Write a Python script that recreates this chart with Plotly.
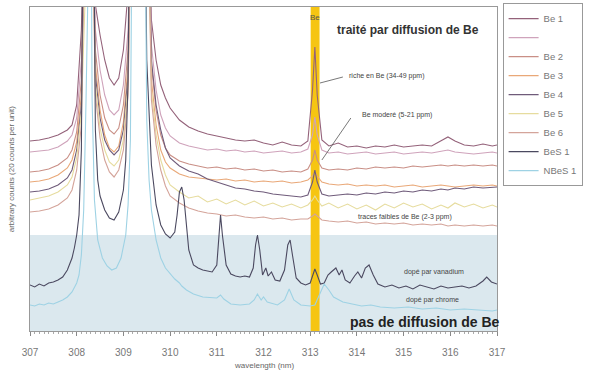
import plotly.graph_objects as go

# ---------------- data ----------------
# common wavelength grid for the Be-treated spectra (nm)
X_BE = [307.0, 307.2, 307.4, 307.6, 307.8, 307.9, 308.0, 308.1, 308.2, 308.3,
        308.4, 308.5, 308.6, 308.7, 308.8, 308.9, 309.0, 309.1, 309.2, 309.3,
        309.4, 309.5, 309.6, 309.7, 309.8, 309.9, 310.0, 310.2, 310.4, 310.6,
        310.8, 311.0, 311.2, 311.4, 311.6, 311.8, 312.0, 312.2, 312.4, 312.6,
        312.8, 312.95, 313.05, 313.1, 313.15, 313.25, 313.4, 313.6, 313.8, 314.0,
        314.2, 314.4, 314.6, 314.8, 315.0, 315.2, 315.4, 315.6, 315.8, 315.95,
        316.1, 316.3, 316.5, 316.7, 316.9, 317.0]

BE1 = [190, 191, 193, 196, 201, 206, 226, 301, 500, 500,
       326, 296, 271, 253, 246, 253, 281, 340, 500, 500,
       500, 500, 311, 271, 246, 233, 223, 211, 204, 200,
       197, 195, 193, 191, 190, 191, 188, 186, 189, 186,
       185, 190, 241, 284, 236, 191, 185, 188, 184, 185,
       183, 185, 184, 186, 184, 185, 186, 185, 190, 194,
       190, 186, 185, 187, 185, 186]

BE_BLANK = [179, 180, 181, 184, 190, 196, 213, 271, 500, 500,
            301, 261, 236, 221, 216, 221, 246, 301, 500, 500,
            500, 500, 286, 241, 216, 203, 195, 188, 185, 183,
            181, 182, 180, 181, 179, 180, 178, 179, 180, 178,
            179, 182, 196, 214, 196, 181, 178, 179, 177, 178,
            179, 177, 178, 179, 177, 178, 179, 178, 180, 181,
            179, 178, 177, 178, 179, 178]

BE2 = [159, 160, 162, 166, 173, 181, 199, 251, 500, 500,
       281, 236, 213, 201, 197, 203, 226, 281, 500, 500,
       500, 500, 266, 221, 196, 183, 176, 170, 167, 165,
       163, 164, 162, 163, 161, 162, 160, 161, 159, 160,
       159, 162, 171, 181, 171, 163, 161, 162, 161, 163,
       162, 164, 163, 164, 163, 165, 164, 165, 166, 165,
       166, 165, 166, 165, 166, 165]

BE3 = [149, 150, 152, 156, 163, 171, 189, 236, 500, 500,
       266, 221, 196, 183, 179, 185, 209, 266, 500, 500,
       500, 500, 251, 206, 181, 169, 163, 157, 154, 153,
       152, 151, 152, 150, 151, 149, 150, 149, 150, 148,
       149, 151, 155, 159, 155, 149, 147, 146, 147, 145,
       146, 145, 146, 144, 145, 146, 144, 145, 146, 145,
       144, 145, 146, 145, 146, 145]

BE4 = [139, 140, 142, 146, 153, 161, 181, 226, 500, 500,
       256, 213, 191, 181, 176, 181, 201, 256, 500, 500,
       500, 500, 271, 226, 201, 183, 173, 165, 160, 157,
       152, 149, 146, 143, 142, 140, 139, 137, 136, 135,
       134, 136, 149, 161, 149, 137, 135, 136, 137, 136,
       138, 137, 139, 138, 140, 139, 141, 140, 142, 141,
       143, 142, 144, 143, 144, 144]

BE5 = [131, 133, 135, 139, 146, 154, 173, 219, 500, 500,
       246, 203, 181, 169, 165, 171, 191, 246, 500, 500,
       500, 500, 241, 196, 171, 156, 146, 139, 133, 135,
       129, 132, 127, 131, 126, 130, 125, 128, 124, 127,
       123, 126, 131, 135, 131, 125, 128, 123, 127, 122,
       126, 121, 127, 123, 128, 124, 127, 122, 126, 123,
       128, 124, 127, 123, 126, 124]

BE6 = [119, 120, 122, 126, 133, 141, 161, 206, 500, 500,
       236, 193, 171, 159, 154, 161, 181, 236, 500, 500,
       500, 500, 231, 186, 161, 145, 135, 128, 123, 120,
       118, 117, 115, 116, 114, 113, 114, 112, 113, 111,
       112, 112, 115, 117, 115, 111, 110, 109, 110, 108,
       109, 107, 108, 107, 108, 106, 107, 106, 107, 105,
       106, 105, 106, 105, 106, 105]

# vanadium-doped, untreated sample
X_BES = [307.0, 307.1, 307.2, 307.3, 307.4, 307.5, 307.6, 307.7, 307.8, 307.9,
         307.95, 308.0, 308.05, 308.1, 308.15, 308.35, 308.4, 308.45, 308.5, 308.6,
         308.7, 308.8, 308.9, 309.0, 309.05, 309.1, 309.15, 309.45, 309.5, 309.55,
         309.6, 309.7, 309.8, 309.9, 310.0, 310.1, 310.15, 310.2, 310.25, 310.3,
         310.35, 310.4, 310.5, 310.6, 310.7, 310.8, 310.9, 311.0, 311.05, 311.08,
         311.12, 311.2, 311.3, 311.4, 311.5, 311.6, 311.7, 311.78, 311.83, 311.87,
         311.92, 311.98, 312.05, 312.1, 312.17, 312.25, 312.35, 312.45, 312.52, 312.57,
         312.62, 312.7, 312.8, 312.9, 313.0, 313.05, 313.1, 313.15, 313.22, 313.3,
         313.38, 313.45, 313.5, 313.55, 313.62, 313.68, 313.75, 313.85, 313.95, 314.02,
         314.1, 314.18, 314.26, 314.35, 314.45, 314.6, 314.75, 314.9, 315.05, 315.2,
         315.35, 315.5, 315.65, 315.8, 315.95, 316.1, 316.25, 316.4, 316.55, 316.7,
         316.78, 316.88, 317.0]
BES1 = [46, 44, 47, 45, 48, 49, 51, 54, 61, 73,
        83, 96, 116, 181, 500, 500, 201, 151, 135, 121,
        113, 111, 119, 141, 171, 251, 500, 500, 271, 211,
        166, 126, 106, 97, 93, 99, 116, 139, 144, 131,
        103, 81, 66, 63, 61, 60, 59, 66, 101, 116,
        96, 66, 57, 55, 54, 55, 54, 63, 86, 96,
        81, 56, 63, 55, 59, 51, 50, 61, 86, 91,
        76, 53, 48, 46, 48, 56, 62, 56, 47, 48,
        56, 59, 61, 63, 56, 61, 51, 48, 55, 59,
        53, 63, 66, 56, 47, 44, 46, 43, 45, 42,
        46, 44, 42, 45, 43, 44, 45, 43, 45, 50,
        54, 49, 47]

# chromium-doped, untreated sample
X_NBES = [307.0, 307.1, 307.2, 307.3, 307.4, 307.5, 307.6, 307.7, 307.8, 307.9,
          308.0, 308.05, 308.1, 308.15, 308.2, 308.23, 308.3, 308.33, 308.38, 308.45,
          308.55, 308.65, 308.75, 308.85, 308.95, 309.05, 309.1, 309.15, 309.2, 309.45,
          309.5, 309.55, 309.6, 309.7, 309.8, 309.9, 310.0, 310.1, 310.2, 310.25,
          310.35, 310.5, 310.7, 310.9, 311.0, 311.08, 311.15, 311.3, 311.5, 311.7,
          311.8, 311.87, 311.95, 312.0, 312.08, 312.3, 312.45, 312.55, 312.65, 312.8,
          313.0, 313.1, 313.2, 313.3, 313.4, 313.5, 313.7, 313.9, 314.1, 314.3,
          314.5, 314.8, 315.1, 315.4, 315.7, 316.0, 316.3, 316.6, 316.9, 317.0]
NBES1 = [26, 25, 27, 26, 28, 27, 29, 31, 34, 39,
         48, 56, 76, 121, 231, 500, 500, 231, 131, 91,
         73, 65, 61, 63, 73, 96, 126, 191, 500, 500,
         211, 151, 121, 91, 73, 63, 57, 52, 48, 45,
         41, 37, 34, 33, 33, 36, 32, 27, 26, 27,
         31, 37, 31, 34, 29, 26, 31, 42, 31, 26,
         25, 26, 36, 47, 41, 34, 29, 27, 25, 26,
         24, 23, 24, 22, 23, 21, 22, 21, 20, 21]

SERIES = [
    ("Be 1", X_BE, BE1, "#94627a"),
    (" ", X_BE, BE_BLANK, "#cfa3bb"),
    ("Be 2", X_BE, BE2, "#c98f86"),
    ("Be 3", X_BE, BE3, "#e9a878"),
    ("Be 4", X_BE, BE4, "#6f5b7a"),
    ("Be 5", X_BE, BE5, "#e6dc9e"),
    ("Be 6", X_BE, BE6, "#d4a49a"),
    ("BeS 1", X_BES, BES1, "#4b4960"),
    ("NBeS 1", X_NBES, NBES1, "#9ed2e4"),
]

X_TICKS = [307, 308, 309, 310, 311, 312, 313, 314, 315, 316, 317]
X_RANGE = [307, 317]
Y_RANGE = [0, 324]
UNTREATED_TOP = 96      # top of the shaded "no diffusion" zone
BE_LINE = [313.01, 313.2]  # Be emission line band (nm)

# ---------------- figure ----------------
FONT = "Liberation Sans, Arial, sans-serif"
fig = go.Figure()

for name, xs, ys, col in SERIES:
    fig.add_trace(go.Scatter(x=xs, y=ys, mode="lines", name=name,
                             line=dict(color=col, width=1.1)))

fig.add_shape(type="rect", xref="x", yref="y", x0=X_RANGE[0], x1=X_RANGE[1],
              y0=Y_RANGE[0], y1=UNTREATED_TOP, fillcolor="#dbe8ee",
              line=dict(width=0), layer="below")
fig.add_shape(type="rect", xref="x", yref="y", x0=BE_LINE[0], x1=BE_LINE[1],
              y0=Y_RANGE[0], y1=Y_RANGE[1], fillcolor="#f6c512",
              line=dict(width=0), layer="below")

# leader lines
fig.add_shape(type="line", xref="x", yref="y", x0=313.21, y0=248, x1=313.70, y1=254,
              line=dict(color="#555", width=0.8))
fig.add_shape(type="line", xref="x", yref="y", x0=313.25, y0=171, x1=313.87, y1=213,
              line=dict(color="#555", width=0.8))

def note(x, y, text, size, bold=False, color="#444"):
    fig.add_annotation(x=x, y=y, xref="x", yref="y", text=f"<b>{text}</b>" if bold else text,
                       showarrow=False, font=dict(family=FONT, size=size, color=color),
                       xanchor="center", yanchor="middle")

note(313.1, 314, "Be", 8, color="#555")
note(315.09, 301, "traité par diffusion de Be", 12, bold=True, color="#333")
note(314.64, 255, "riche en Be (34-49 ppm)", 7)
note(314.86, 216, "Be moderé (5-21 ppm)", 7)
note(315.03, 114, "traces faibles de Be (2-3 ppm)", 7)
note(315.65, 59, "dopé par vanadium", 7)
note(315.61, 31, "dopé par chrome", 7)
note(315.46, 9, "pas de diffusion de Be", 14, bold=True, color="#222")

# axis titles as paper annotations
fig.add_annotation(x=0.5, y=-0.105, xref="paper", yref="paper", yanchor="middle",
                   text="wavelength (nm)", showarrow=False,
                   font=dict(family=FONT, size=8, color="#666"))
fig.add_annotation(x=-0.04, y=0.5, xref="paper", yref="paper", xanchor="center",
                   text="arbitrary counts (20 counts per unit)", showarrow=False,
                   textangle=-90, font=dict(family=FONT, size=8, color="#666"))

fig.update_layout(
    width=589, height=378,
    margin=dict(l=30, r=92, t=7, b=47, autoexpand=False),
    paper_bgcolor="white", plot_bgcolor="white",
    font=dict(family=FONT, color="#666"),
    showlegend=True,
    legend=dict(x=1.012, y=1.012, xanchor="left", yanchor="top",
                bordercolor="#999", borderwidth=1, bgcolor="white",
                font=dict(family=FONT, size=9.5, color="#777"),
                itemwidth=30, tracegroupgap=0),
    xaxis=dict(range=X_RANGE, tickvals=X_TICKS, ticks="outside", ticklen=4,
               tickcolor="#888", showline=True, linecolor="#999", linewidth=1,
               mirror=True, showgrid=False, zeroline=False,
               tickfont=dict(family=FONT, size=10, color="#777"),
               ticklabelstandoff=8,
               minor=dict(dtick=0.1, ticks="outside", ticklen=2, tickcolor="#aaa")),
    yaxis=dict(range=Y_RANGE, showticklabels=False, ticks="", showline=True,
               linecolor="#999", linewidth=1, mirror=True, showgrid=False,
               zeroline=False),
)

fig.write_html("out.html")
